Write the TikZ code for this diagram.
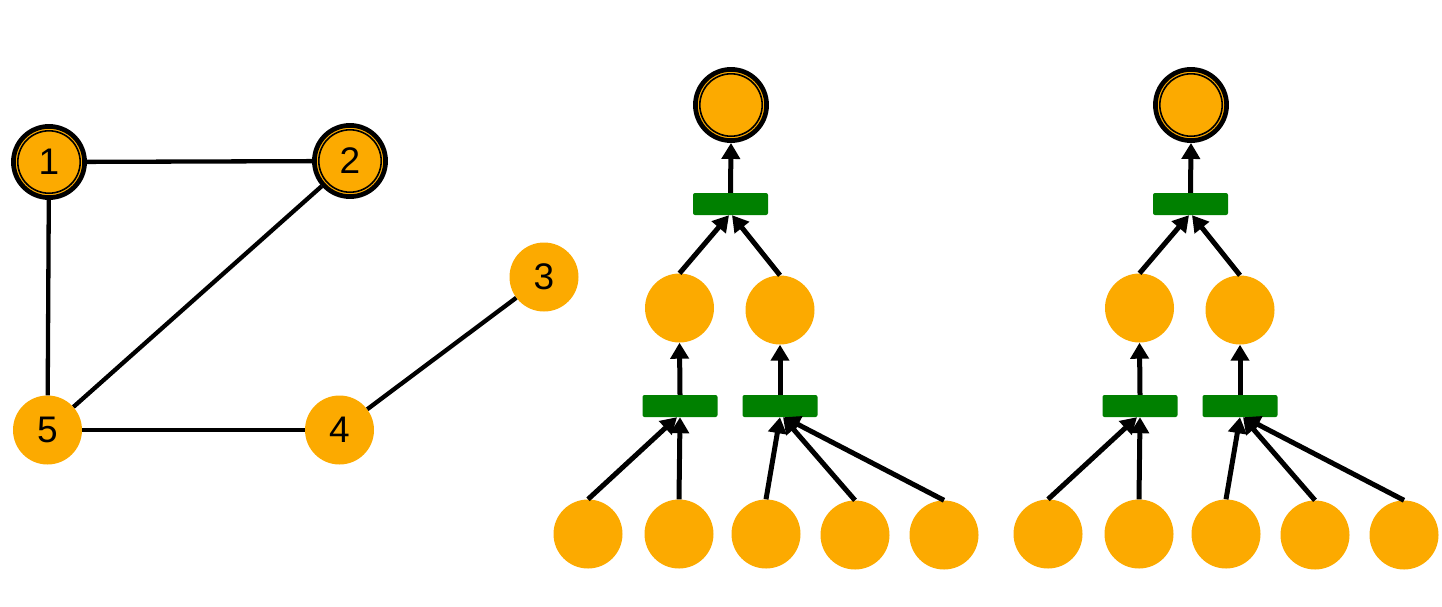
\documentclass[tikz,border=0pt]{standalone}
\usepackage{fontspec}
\setmainfont{Liberation Sans}
\usetikzlibrary{arrows.meta}
\definecolor{orng}{RGB}{252,170,0}
\definecolor{grn}{RGB}{0,128,0}
\tikzset{
  vert/.style={circle, fill=orng, draw=none, minimum size=69pt, inner sep=0pt, font=\fontsize{37}{40}\selectfont},
  dvert/.style={circle, fill=orng, draw=black, line width=4.7pt, minimum size=71.2pt, inner sep=0pt,
    font=\fontsize{37}{40}\selectfont,
    path picture={\draw[black, line width=1.6pt] (path picture bounding box.center) circle (31.2pt);}},
  bar/.style={rectangle, fill=grn, draw=none, minimum width=75pt, minimum height=22pt, inner sep=0pt, rounded corners=2pt},
  edge/.style={black, line width=4.3pt},
  arr/.style={black, line width=5pt, -{Triangle[length=16pt,width=18pt]}}
}
\begin{document}
\begin{tikzpicture}[x=1pt,y=-1pt]
\useasboundingbox (0,0) rectangle (1442,606);
% graph
\node[dvert] (n1) at (49,162) {1};
\node[dvert] (n2) at (350,161) {2};
\node[vert] (n3) at (544,277) {3};
\node[vert] (n4) at (339.5,430) {4};
\node[vert] (n5) at (47.5,430) {5};
\draw[edge] (n1) -- (n2);
\draw[edge] (n1) -- (n5);
\draw[edge] (n2) -- (n5);
\draw[edge] (n5) -- (n4);
\draw[edge] (n4) -- (n3);
% trees
\foreach \o/\p in {0/a,460/b}{
  \node[dvert] (\p r) at (731+\o,105) {};
  \node[bar] (\p t) at (730.5+\o,204) {};
  \node[vert] (\p m1) at (679.5+\o,308) {};
  \node[vert] (\p m2) at (780+\o,310) {};
  \node[bar] (\p b1) at (680+\o,406) {};
  \node[bar] (\p b2) at (780+\o,406) {};
  \node[vert] (\p l1) at (588+\o,534) {};
  \node[vert] (\p l2) at (679+\o,534) {};
  \node[vert] (\p l3) at (766+\o,534) {};
  \node[vert] (\p l4) at (855+\o,535) {};
  \node[vert] (\p l5) at (944+\o,535) {};
  \draw[arr] (\p t.north) -- (\p r.south);
  \draw[arr] (\p m1.north) -- ([xshift=-1.5pt]\p t.south);
  \draw[arr] (\p m2.north) -- ([xshift=1.5pt]\p t.south);
  \draw[arr] (\p b1.north) -- (\p m1.south);
  \draw[arr] (\p b2.north) -- (\p m2.south);
  \draw[arr] (\p l1.north) -- ([xshift=-3pt]\p b1.south);
  \draw[arr] (\p l2.north) -- (\p b1.south);
  \draw[arr] (\p l3.north) -- (\p b2.south);
  \draw[arr] (\p l4.north) -- ([xshift=3pt]\p b2.south);
  \draw[arr] (\p l5.north) -- ([xshift=4pt]\p b2.south);
}
\end{tikzpicture}
\end{document}
